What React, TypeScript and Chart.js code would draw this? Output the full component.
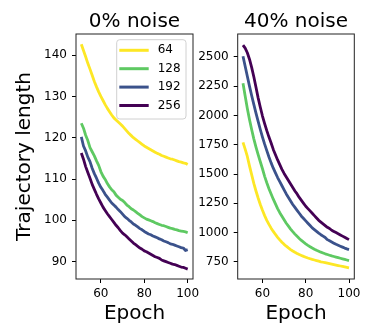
import React, { useEffect, useRef } from 'react';
import { Chart, registerables } from 'chart.js';

Chart.register(...registerables);

const FONT = '"DejaVu Sans", sans-serif';

const epochs = [
  51, 52, 53, 54, 55, 56, 57, 58, 59, 60,
  61, 62, 63, 64, 65, 66, 67, 68, 69, 70,
  71, 72, 73, 74, 75, 76, 77, 78, 79, 80,
  81, 82, 83, 84, 85, 86, 87, 88, 89, 90,
  91, 92, 93, 94, 95, 96, 97, 98, 99, 100,
];

const batchSizes = ['64', '128', '192', '256'];
const seriesColors = ['#fde725', '#5ec962', '#3b528b', '#440154'];
const panelTitles = ['0% noise', '40% noise'];

// 0% noise
const clean64 = [
  142.6, 141.1, 139.6, 138.0, 136.6, 135.1, 133.6, 132.3, 131.1, 130.0,
  129.0, 128.0, 127.1, 126.3, 125.5, 124.8, 124.3, 123.8, 123.3, 122.8,
  122.2, 121.6, 121.0, 120.5, 120.0, 119.6, 119.2, 118.8, 118.4, 118.0,
  117.7, 117.4, 117.1, 116.8, 116.5, 116.2, 116.0, 115.7, 115.5, 115.3,
  115.1, 114.9, 114.8, 114.6, 114.4, 114.2, 114.1, 113.9, 113.8, 113.5,
];
const clean128 = [
  123.5, 122.3, 120.6, 119.3, 117.6, 116.6, 115.6, 114.4, 113.3, 111.8,
  110.7, 109.9, 108.9, 108.1, 107.4, 106.9, 106.1, 105.6, 105.1, 104.8,
  104.3, 103.7, 103.3, 102.8, 102.5, 102.1, 101.7, 101.3, 100.9, 100.6,
  100.3, 100.1, 99.9, 99.7, 99.4, 99.2, 99.0, 98.8, 98.7, 98.5,
  98.3, 98.1, 98.0, 97.8, 97.7, 97.5, 97.4, 97.3, 97.2, 97.0,
];
const clean192 = [
  120.2, 118.0, 116.8, 115.3, 114.2, 112.6, 111.3, 110.2, 109.0, 108.0,
  107.2, 106.3, 105.6, 104.9, 104.2, 103.7, 103.2, 102.6, 102.1, 101.5,
  100.9, 100.5, 100.0, 99.6, 99.1, 98.8, 98.4, 98.0, 97.7, 97.3,
  97.0, 96.7, 96.5, 96.2, 96.0, 95.8, 95.5, 95.3, 95.0, 94.8,
  94.6, 94.3, 94.2, 94.0, 93.8, 93.6, 93.4, 93.3, 92.7, 92.9,
];
const clean256 = [
  116.3, 114.8, 113.0, 111.6, 110.2, 108.7, 107.5, 106.3, 105.2, 104.2,
  103.2, 102.4, 101.6, 100.9, 100.2, 99.5, 98.8, 98.2, 97.5, 96.9,
  96.5, 96.0, 95.5, 95.0, 94.5, 94.1, 93.7, 93.3, 93.0, 92.6,
  92.4, 92.1, 91.8, 91.5, 91.2, 91.0, 90.8, 90.4, 90.2, 90.0,
  89.8, 89.6, 89.4, 89.3, 89.1, 88.9, 88.7, 88.6, 88.4, 88.2,
];

// 40% noise
const noisy64 = [
  1770, 1712, 1650, 1570, 1495, 1420, 1355, 1295, 1240, 1190,
  1145, 1105, 1070, 1038, 1010, 984, 960, 938, 918, 900,
  884, 869, 855, 843, 832, 822, 813, 805, 797, 790,
  783, 777, 771, 766, 761, 756, 751, 747, 743, 739,
  735, 731, 727, 723, 719, 715, 711, 707, 703, 699,
];
const noisy128 = [
  2275, 2165, 2060, 1965, 1880, 1800, 1730, 1665, 1605, 1545,
  1480, 1425, 1375, 1330, 1285, 1245, 1205, 1170, 1140, 1110,
  1080, 1055, 1030, 1008, 987, 968, 950, 933, 918, 904,
  891, 879, 868, 858, 849, 841, 833, 826, 819, 813,
  807, 801, 796, 791, 786, 781, 776, 771, 766, 761,
];
const noisy192 = [
  2505, 2420, 2335, 2250, 2170, 2095, 2020, 1950, 1880, 1815,
  1755, 1700, 1645, 1595, 1550, 1510, 1470, 1435, 1400, 1365,
  1330, 1300, 1270, 1240, 1215, 1190, 1165, 1140, 1120, 1100,
  1080, 1060, 1040, 1025, 1010, 995, 982, 970, 958, 940,
  930, 920, 910, 900, 892, 884, 876, 868, 861, 855,
];
const noisy256 = [
  2600, 2575, 2535, 2480, 2410, 2330, 2240, 2150, 2070, 1995,
  1930, 1870, 1815, 1765, 1710, 1665, 1620, 1580, 1540, 1505,
  1475, 1445, 1415, 1385, 1355, 1330, 1300, 1275, 1250, 1225,
  1205, 1185, 1165, 1145, 1125, 1105, 1090, 1075, 1060, 1045,
  1035, 1020, 1010, 1000, 990, 980, 970, 960, 950, 940,
];

const xTicks = [60, 80, 100];
const cleanYTicks = [90, 100, 110, 120, 130, 140];
const noisyYTicks = [750, 1000, 1250, 1500, 1750, 2000, 2250, 2500];

const xRange = [48.55, 102.45];
const cleanYRange = [85.8, 145.1];
const noisyYRange = [604, 2695];

const panelPlugin = {
  id: 'panel',
  afterDraw(chart: any, _args: any, opts: any) {
    const { ctx, chartArea: a } = chart;
    ctx.save();
    // frame
    ctx.strokeStyle = '#222';
    ctx.lineWidth = 1;
    ctx.strokeRect(a.left, a.top, a.right - a.left, a.bottom - a.top);
    // title
    ctx.fillStyle = '#000';
    ctx.font = `20px ${FONT}`;
    ctx.textAlign = 'center';
    ctx.textBaseline = 'alphabetic';
    ctx.fillText(opts.title, (a.left + a.right) / 2, a.top - 7.3);
    // legend
    if (opts.legend) {
      const bx = a.left + 40.7;
      const by = a.top + 5.7;
      const bw = 69.3;
      const bh = 79.3;
      const r = 3;
      ctx.beginPath();
      ctx.moveTo(bx + r, by);
      ctx.arcTo(bx + bw, by, bx + bw, by + bh, r);
      ctx.arcTo(bx + bw, by + bh, bx, by + bh, r);
      ctx.arcTo(bx, by + bh, bx, by, r);
      ctx.arcTo(bx, by, bx + bw, by, r);
      ctx.closePath();
      ctx.fillStyle = 'rgba(255,255,255,0.8)';
      ctx.fill();
      ctx.strokeStyle = '#d0d0d0';
      ctx.lineWidth = 1;
      ctx.stroke();
      ctx.font = `12px ${FONT}`;
      ctx.textAlign = 'left';
      ctx.textBaseline = 'middle';
      chart.data.datasets.forEach((ds: any, i: number) => {
        const y = a.top + 16.3 + i * 18.4;
        ctx.strokeStyle = ds.borderColor;
        ctx.lineWidth = 3;
        ctx.lineCap = 'butt';
        ctx.beginPath();
        ctx.moveTo(a.left + 43.3, y);
        ctx.lineTo(a.left + 72.7, y);
        ctx.stroke();
        ctx.fillStyle = '#000';
        ctx.fillText(ds.label, a.left + 81.7, y);
      });
    }
    ctx.restore();
  },
};

function makeConfig(
  series: number[][],
  yTicks: number[],
  yRange: number[],
  title: string,
  isLeft: boolean,
): any {
  return {
    type: 'line',
    data: {
      datasets: series.map((vals, i) => ({
        label: batchSizes[i],
        data: epochs.map((e, j) => ({ x: e, y: vals[j] })),
        borderColor: seriesColors[i],
        backgroundColor: seriesColors[i],
        borderWidth: 2.8,
        pointRadius: 0,
        tension: 0,
        fill: false,
        borderJoinStyle: 'round',
        order: series.length - i,
      })),
    },
    options: {
      responsive: false,
      animation: false,
      events: [],
      layout: {
        padding: isLeft
          ? { left: 0, top: 34, right: 174, bottom: 0 }
          : { left: 180, top: 34, right: 12.7, bottom: 0 },
      },
      plugins: {
        legend: { display: false },
        tooltip: { enabled: false },
        title: { display: false },
        panel: { title, legend: isLeft },
      },
      scales: {
        x: {
          type: 'linear',
          min: xRange[0],
          max: xRange[1],
          afterBuildTicks: (s: any) => {
            s.ticks = xTicks.map((v) => ({ value: v }));
          },
          afterFit: (s: any) => {
            s.height = 46;
          },
          ticks: {
            font: { size: 12, family: FONT },
            color: '#000',
            padding: 4,
            maxRotation: 0,
            autoSkip: false,
            callback: (v: any) => String(v),
          },
          grid: {
            display: true,
            drawOnChartArea: false,
            drawTicks: true,
            tickLength: 4,
            tickColor: '#000',
            tickWidth: 1,
          },
          border: { display: false },
          title: {
            display: true,
            text: 'Epoch',
            color: '#000',
            font: { size: 20, family: FONT, lineHeight: 1.16 },
            padding: { top: 0, bottom: 0 },
          },
        },
        y: {
          type: 'linear',
          min: yRange[0],
          max: yRange[1],
          afterBuildTicks: (s: any) => {
            s.ticks = yTicks.map((v) => ({ value: v }));
          },
          afterFit: (s: any) => {
            s.width = isLeft ? 76 : 57.7;
          },
          ticks: {
            font: { size: 12, family: FONT },
            color: '#000',
            padding: 5,
            autoSkip: false,
            callback: (v: any) => String(v),
          },
          grid: {
            display: true,
            drawOnChartArea: false,
            drawTicks: true,
            tickLength: 4,
            tickColor: '#000',
            tickWidth: 1,
          },
          border: { display: false },
          title: {
            display: isLeft,
            text: 'Trajectory length',
            color: '#000',
            font: { size: 20, family: FONT, lineHeight: 1.2 },
            padding: { top: 13, bottom: 0 },
          },
        },
      },
    },
    plugins: [panelPlugin],
  };
}

export default function App() {
  const leftRef = useRef<HTMLCanvasElement>(null);
  const rightRef = useRef<HTMLCanvasElement>(null);

  useEffect(() => {
    const left = new Chart(
      leftRef.current!,
      makeConfig([clean64, clean128, clean192, clean256], cleanYTicks, cleanYRange, panelTitles[0], true),
    );
    const right = new Chart(
      rightRef.current!,
      makeConfig([noisy64, noisy128, noisy192, noisy256], noisyYTicks, noisyYRange, panelTitles[1], false),
    );
    return () => {
      left.destroy();
      right.destroy();
    };
  }, []);

  const canvasStyle: React.CSSProperties = {
    position: 'absolute',
    left: 0,
    top: 0,
    width: 367,
    height: 325,
  };

  return (
    <div
      style={{
        position: 'fixed',
        left: 0,
        top: 0,
        width: 367,
        height: 325,
        background: '#fff',
        overflow: 'hidden',
      }}
    >
      <canvas ref={leftRef} width={367} height={325} style={canvasStyle} />
      <canvas ref={rightRef} width={367} height={325} style={canvasStyle} />
    </div>
  );
}
